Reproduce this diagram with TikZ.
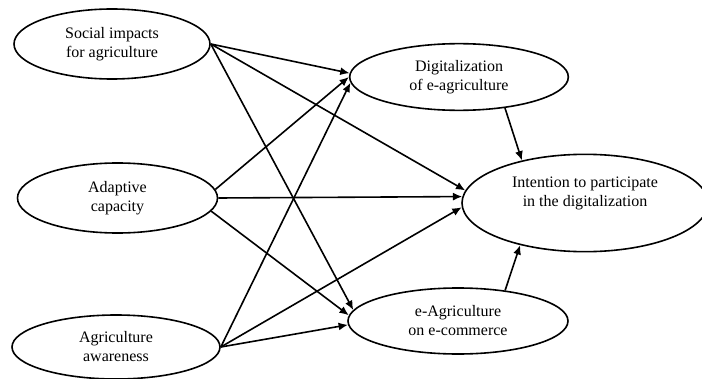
\documentclass[tikz,border=0pt]{standalone}
\usepackage{fontspec}
\setmainfont{Liberation Serif}
\usetikzlibrary{arrows.meta,shapes.geometric}

\tikzset{
  construct/.style={draw, ellipse, line width=1.2pt, inner sep=0pt, align=center,
    font=\fontsize{12}{14.25}\selectfont},
  link/.style={line width=1.2pt, -{Latex[length=7pt,width=6pt]}}
}

\begin{document}
\begin{tikzpicture}[x=0.75pt, y=-0.75pt]

\useasboundingbox (0,0) rectangle (702,378);
\clip (0,0) rectangle (702,378);

% exogenous constructs
\node[construct, minimum width=147pt, minimum height=52.5pt] (soc) at (112,44) {Social impacts\\for agriculture};
\node[construct, minimum width=150pt, minimum height=52.5pt] (adp) at (117.5,198) {Adaptive\\capacity};
\node[construct, minimum width=156pt, minimum height=48pt] (agr) at (116,347) {Agriculture\\awareness};

% mediators
\node[construct, minimum width=164pt, minimum height=50pt] (dig) at (459,77) {Digitalization\\of e-agriculture};
\node[construct, minimum width=165pt, minimum height=49.5pt] (eag) at (458,321) {e-Agriculture\\on e-commerce};

% outcome
\node[construct, minimum width=184.5pt, minimum height=73pt] (int) at (585,203) {Intention to participate\\in the digitalization\\[3pt]};

% paths from social impacts
\draw[link] (soc.east) -- (dig.178);
\draw[link] (soc.east) -- (int.174);
\draw[link] (soc.east) -- (eag.174);

% paths from adaptive capacity
\draw[link] (adp.5) -- (dig.west);
\draw[link] (adp.east) -- (int.177.6);
\draw[link] (adp.-8) -- (eag.177);

% paths from agriculture awareness
\draw[link] (agr.east) -- (dig.183);
\draw[link] (agr.east) -- (int.182);
\draw[link] (agr.east) -- (eag.182);

% mediators to outcome
\draw[link] (dig.-34) -- (int.146);
\draw[link] (eag.33) -- (int.213);

\end{tikzpicture}
\end{document}
